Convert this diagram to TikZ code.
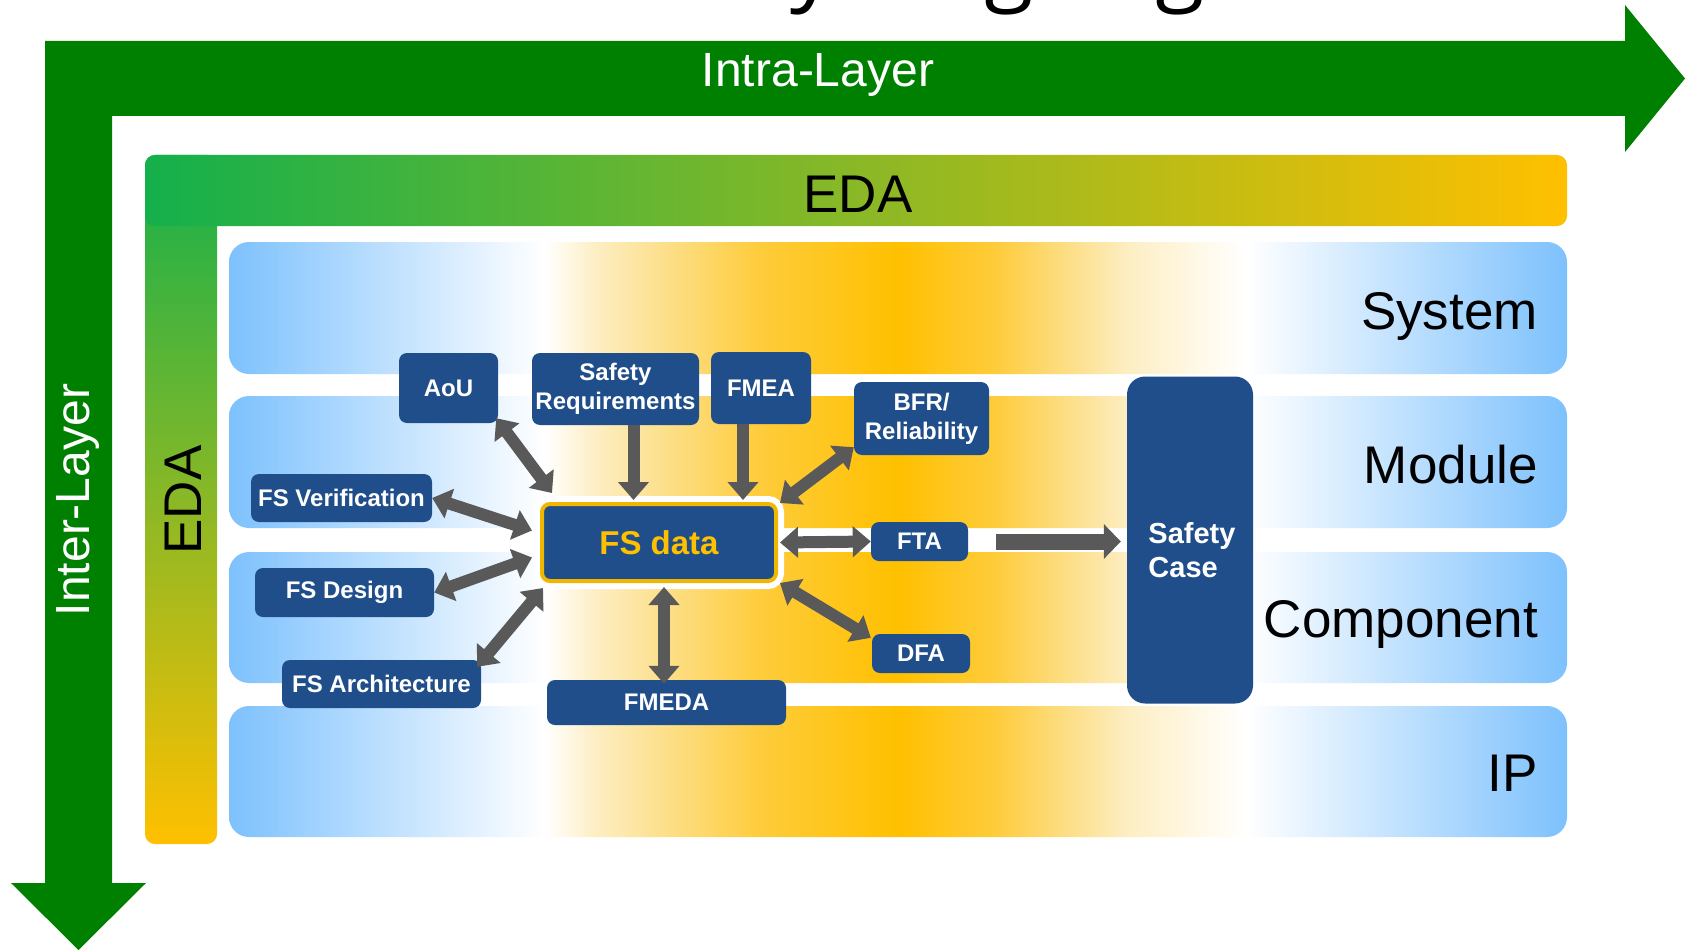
\documentclass[tikz,border=0pt]{standalone}
\usepackage{fontspec}
\setmainfont{Liberation Sans}
\newfontfamily\titlefont{Open Sans}
\usetikzlibrary{arrows.meta}
\definecolor{grn}{RGB}{0,128,0}
\definecolor{edagreen}{RGB}{20,176,76}
\definecolor{edaorange}{RGB}{255,192,0}
\definecolor{bandblue}{RGB}{125,193,253}
\definecolor{yelA}{RGB}{253,238,195}
\definecolor{yelB}{RGB}{253,220,125}
\definecolor{orB}{RGB}{254,204,60}
\definecolor{orpk}{RGB}{255,192,0}
\definecolor{boxblue}{RGB}{31,78,138}
\definecolor{arrgray}{RGB}{89,89,89}
\definecolor{goldtxt}{RGB}{255,192,0}
\definecolor{goldline}{RGB}{240,182,0}
\pgfdeclarehorizontalshading{bandshade}{100bp}{color(0bp)=(bandblue); color(25bp)=(bandblue); color(36.8bp)=(white); color(38.7bp)=(yelA); color(41.9bp)=(yelB); color(44.8bp)=(orB); color(50bp)=(orpk); color(53.7bp)=(orB); color(56bp)=(yelB); color(58.6bp)=(yelA); color(63bp)=(white); color(75bp)=(bandblue); color(100bp)=(bandblue)}
\begin{document}
\begin{tikzpicture}[x=1pt,y=-1pt,
  fsbox/.style={fill=boxblue, rounded corners=8pt, text=white, font=\bfseries\fontsize{24}{29}\selectfont, align=center, inner sep=0pt},
  band/.style={rounded corners=20pt, shading=bandshade},
  laylabel/.style={anchor=base east, font=\fontsize{53}{60}\selectfont, inner sep=0pt},
  darr/.style={draw=arrgray, line width=12pt, {Triangle[length=18pt,width=30pt]}-{Triangle[length=18pt,width=30pt]}},
  sarr/.style={draw=arrgray, line width=12pt, -{Triangle[length=18pt,width=30pt]}},
  bigarr/.style={draw=arrgray, line width=16pt, -{Triangle[length=17pt,width=34pt]}},
]
\useasboundingbox (0,0) rectangle (1685,952);
\fill[white] (0,0) rectangle (1685,952);

% clipped title remnants
\begin{scope}
\clip (0,0) rectangle (1685,952);
\node[anchor=base west, inner sep=0pt, font=\titlefont\fontsize{90}{100}\selectfont] (ty) at (790,-6) {y};
\node[anchor=base west, inner sep=0pt, font=\titlefont\fontsize{90}{100}\selectfont] (tg1) at (984,-6) {g};
\node[anchor=base west, inner sep=0pt, font=\titlefont\fontsize{90}{100}\selectfont] (tg2) at (1155,-6) {g};
\end{scope}

% green L arrow
\fill[grn] (45,41) -- (1625,41) -- (1625,5) -- (1685,78.5) -- (1625,152) -- (1625,116) -- (112,116) -- (112,883) -- (146,883) -- (78.5,950) -- (11,883) -- (45,883) -- cycle;
\node[anchor=base, text=white, inner sep=0pt, font=\fontsize{48}{56}\selectfont] (intra) at (818,87) {Intra-Layer};
\node[anchor=base, rotate=90, text=white, inner sep=0pt, font=\fontsize{48}{56}\selectfont] (inter) at (89,500) {Inter-Layer};

% EDA L
\shade[top color=edagreen, bottom color=edaorange, rounded corners=10pt] (145,155) rectangle (217,844);
\shade[left color=edagreen, right color=edaorange, rounded corners=10pt] (145,155) rectangle (1567,226);
\node[anchor=base, inner sep=0pt, font=\fontsize{53}{60}\selectfont] (edatop) at (858,212) {EDA};
\node[anchor=base, rotate=90, inner sep=0pt, font=\fontsize{53}{60}\selectfont] (edaleft) at (201,500) {EDA};

% layer bands
\path[band] (229,242) rectangle (1567,374);
\path[band] (229,396) rectangle (1567,528);
\path[band] (229,552) rectangle (1567,683);
\path[band] (229,706) rectangle (1567,837);
\node[laylabel] (system) at (1538,329) {System};
\node[laylabel] (module) at (1538,483) {Module};
\node[laylabel] (component) at (1538,637) {Component};
\node[laylabel] (ip) at (1538,791) {IP};

% boxes
\node[fsbox, minimum width=99pt, minimum height=70pt] (aou) at (448.5,388) {AoU};
\node[fsbox, minimum width=167pt, minimum height=72pt] (sr) at (615.5,389) {Safety\\Requirements};
\node[fsbox, minimum width=100pt, minimum height=72pt] (fmea) at (761,388) {FMEA};
\node[fsbox, minimum width=135pt, minimum height=73pt] (bfr) at (921.5,418.5) {BFR/\\Reliability};
\node[fsbox, minimum width=181pt, minimum height=48pt] (fsv) at (341.5,498) {FS Verification};
\node[fsbox, minimum width=179pt, minimum height=49pt] (fsd) at (344.5,592.5) {FS Design};
\node[fsbox, minimum width=199pt, minimum height=48pt] (fsa) at (381.5,684) {FS Architecture};
\node[fsbox, minimum width=239pt, minimum height=45pt] (fmeda) at (666.5,702.5) {FMEDA};
\node[fsbox, minimum width=97pt, minimum height=39pt] (fta) at (919.5,541.5) {FTA};
\node[fsbox, minimum width=98pt, minimum height=39pt] (dfa) at (921,653.5) {DFA};
\node[fsbox, rounded corners=18pt, minimum width=126pt, minimum height=327pt] (sc) at (1190,540) {};
\node[text=white, align=left, inner sep=0pt, font=\bfseries\fontsize{29}{34}\selectfont] (sctext) at (1192,550) {Safety\\Case};
\node[fsbox, draw=goldline, line width=4pt, preaction={draw=white, line width=16pt}, minimum width=234pt, minimum height=77pt, text=goldtxt, font=\bfseries\fontsize{33}{40}\selectfont] (fs) at (659,542.5) {FS data};

% arrows
\draw[darr] ([shift={(-2,-5)}]aou.south east) -- ([shift={(12,-9)}]fs.north west);
\draw[sarr] ([xshift=18pt]sr.south) -- ([xshift=18pt,yshift=2pt]sr.south |- fs.north);
\draw[sarr] ([xshift=-18pt]fmea.south) -- ([xshift=-18pt,yshift=2pt]fmea.south |- fs.north);
\draw[darr] ([shift={(0,-8)}]bfr.south west) -- ([shift={(2,1)}]fs.north east);
\draw[darr] (fsv.east) -- ([shift={(-8,-12)}]fs.west);
\draw[darr] ([xshift=2pt]fs.east) -- (fta.west);
\draw[bigarr] ([xshift=28pt]fta.east) -- ([xshift=-6pt]sc.west |- fta.east);
\draw[darr] (fsd.east) -- ([shift={(-8,15)}]fs.west);
\draw[darr] ([shift={(-4,7)}]fsa.north east) -- ([shift={(3,5)}]fs.south west);
\draw[darr] ([shift={(5,4)}]fs.south) -- ([shift={(5,4)}]fs.south |- fmeda.north);
\draw[darr] ([shift={(2,0)}]fs.south east) -- ([shift={(-1,4)}]dfa.north west);
\end{tikzpicture}
\end{document}
